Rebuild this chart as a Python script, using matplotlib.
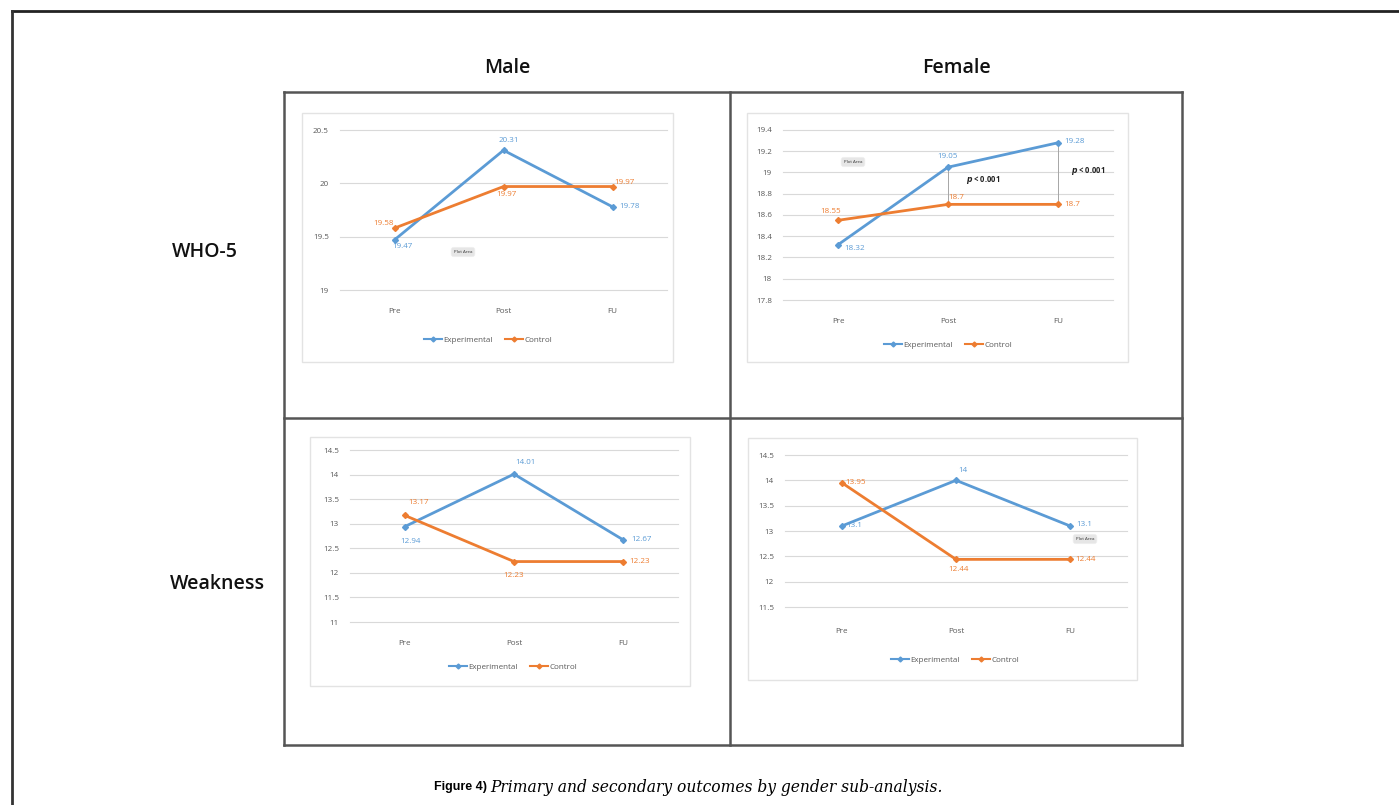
import matplotlib
matplotlib.use("Agg")
import matplotlib.pyplot as plt
from matplotlib.lines import Line2D
from matplotlib.patches import Rectangle

W, H = 1399, 805

# ---- data ----
stages = ["Pre", "Post", "FU"]
series_names = ["Experimental", "Control"]

male_who5_exp = [19.47, 20.31, 19.78]
male_who5_ctl = [19.58, 19.97, 19.97]
female_who5_exp = [18.32, 19.05, 19.28]
female_who5_ctl = [18.55, 18.7, 18.7]
male_weak_exp = [12.94, 14.01, 12.67]
male_weak_ctl = [13.17, 12.23, 12.23]
female_weak_exp = [13.1, 14, 13.1]
female_weak_ctl = [13.95, 12.44, 12.44]

male_who5_ticks = [19, 19.5, 20, 20.5]
female_who5_ticks = [17.8, 18, 18.2, 18.4, 18.6, 18.8, 19, 19.2, 19.4]
male_weak_ticks = [11, 11.5, 12, 12.5, 13, 13.5, 14, 14.5]
female_weak_ticks = [11.5, 12, 12.5, 13, 13.5, 14, 14.5]

col_titles = ["Male", "Female"]
row_titles = ["WHO-5", "Weakness"]
p_text = "$\\boldsymbol{p}$ < 0.001"
caption_bold = "Figure 4) "
caption_text = "Primary and secondary outcomes by gender sub-analysis."

BLUE = "#5B9BD5"
ORANGE = "#ED7D31"
TICK = "#595959"
GRID = "#D9D9D9"
FONT = "Open Sans"

fig = plt.figure(figsize=(W / 100, H / 100), dpi=100)
fig.patch.set_facecolor("white")


def fx(x):
    return x / W


def fy(y):
    return 1 - y / H


def fig_line(x0, y0, x1, y1, color, lw):
    fig.add_artist(Line2D([fx(x0), fx(x1)], [fy(y0), fy(y1)], color=color,
                          lw=lw, transform=fig.transFigure))


def fmt(v):
    return ("%g" % v)


def panel(box, plot, ticks, exp, ctl, exp_off, ctl_off, legend_xy, xpad):
    bx0, by0, bx1, by1 = box
    fig.add_artist(Rectangle((fx(bx0), fy(by1)), fx(bx1 - bx0), (by1 - by0) / H,
                             transform=fig.transFigure, fill=False,
                             edgecolor="#E3E3E3", lw=1.0))
    x0, y0, x1, y1 = plot
    ax = fig.add_axes([fx(x0), fy(y1), fx(x1 - x0), (y1 - y0) / H])
    ax.set_facecolor("none")
    xs = [0.5, 1.5, 2.5]
    ax.plot(xs, exp, color=BLUE, lw=2, marker="D", ms=3, zorder=3)
    ax.plot(xs, ctl, color=ORANGE, lw=2, marker="D", ms=3, zorder=3)
    ax.set_xlim(0, 3)
    ax.set_ylim(ticks[0], ticks[-1])
    ax.set_yticks(ticks)
    ax.set_yticklabels([fmt(t) for t in ticks])
    ax.set_xticks(xs)
    ax.set_xticklabels(stages)
    for s in ax.spines.values():
        s.set_visible(False)
    ax.grid(axis="y", color=GRID, lw=0.8)
    for gl in ax.get_ygridlines():
        gl.set_clip_on(False)
    ax.set_axisbelow(True)
    ax.tick_params(length=0, labelsize=5.8, labelcolor=TICK, pad=8)
    ax.tick_params(axis="x", pad=xpad)
    for lbl in ax.get_xticklabels() + ax.get_yticklabels():
        lbl.set_fontfamily(FONT)
    for vals, offs, col in ((exp, exp_off, BLUE), (ctl, ctl_off, ORANGE)):
        for x, v, (dx, dy) in zip(xs, vals, offs):
            ax.annotate(fmt(v), (x, v), xytext=(dx, dy), textcoords="offset points",
                        ha="center", va="center", fontsize=5.8, color=col,
                        family=FONT)
    handles = [Line2D([], [], color=BLUE, lw=1.5, marker="D", ms=2.5),
               Line2D([], [], color=ORANGE, lw=1.5, marker="D", ms=2.5)]
    fig.legend(handles, series_names, loc="center",
               bbox_to_anchor=(fx(legend_xy[0]), fy(legend_xy[1])),
               ncol=2, frameon=False, prop={"family": FONT, "size": 5.8},
               labelcolor=TICK, handlelength=2.2, handletextpad=0.2,
               columnspacing=1.5)
    return ax


def tooltip(x, y):
    fig.text(fx(x), fy(y), "Plot Area", fontsize=3.2, ha="center", va="center",
             family=FONT, color="#333333",
             bbox=dict(boxstyle="round,pad=0.6", fc="#E6E6E6", ec="#EFEFEF", lw=0.5))


# ---- outer frame and 2x2 grid ----
fig_line(12, 11, W, 11, "#222222", 2)
fig_line(12, 11, 12, H, "#333333", 2)
gx0, gx1, gy0, gy1, gxm, gym = 284, 1182, 92, 745, 730, 418
for (a, b, c, d) in [(gx0, gy0, gx1, gy0), (gx0, gy1, gx1, gy1),
                     (gx0, gy0, gx0, gy1), (gx1, gy0, gx1, gy1),
                     (gxm, gy0, gxm, gy1), (gx0, gym, gx1, gym)]:
    fig_line(a, b, c, d, "#555555", 1.8)

# ---- panels ----
panel((302, 113, 673, 362), (340, 130, 667, 290), male_who5_ticks,
      male_who5_exp, male_who5_ctl,
      [(6, -5), (4, 7), (12, 0)], [(-8, 3), (2, -6), (9, 3)], (488, 340), 13)
tooltip(463, 252)

ax_tr = panel((747, 113, 1128, 362), (783, 130, 1113, 300), female_who5_ticks,
              female_who5_exp, female_who5_ctl,
              [(12, -3), (0, 8), (12, 1)], [(-5, 6), (6, 5), (10, 0)], (948, 345), 13)
for x, a, b in zip([1.5, 2.5], female_who5_ctl[1:], female_who5_exp[1:]):
    ax_tr.plot([x, x], [a, b], color="#A6A6A6", lw=0.7, zorder=2)
ax_tr.text(1.82, 18.93, p_text, fontsize=5.5, ha="center", va="center",
           fontweight="bold", family=FONT, color="#222222")
ax_tr.text(2.77, 19.01, p_text, fontsize=5.5, ha="center", va="center",
           fontweight="bold", family=FONT, color="#222222")
tooltip(853, 162)

panel((310, 437, 690, 686), (350, 450, 678, 622), male_weak_ticks,
      male_weak_exp, male_weak_ctl,
      [(4, -11), (8, 8), (13, 0)], [(10, 9), (0, -10), (12, 0)], (513, 667), 13)

panel((748, 438, 1137, 680), (785, 455, 1127, 607), female_weak_ticks,
      female_weak_exp, female_weak_ctl,
      [(9, 0), (5, 7), (10, 1)], [(10, 0), (2, -7), (11, 0)], (955, 660), 15)
tooltip(1085, 539)

# ---- headers ----
for txt, x in zip(col_titles, [507, 957]):
    fig.text(fx(x), fy(68), txt, fontsize=14, ha="center", va="center",
             family=FONT, fontweight="semibold", color="#111111")
for txt, x, y in zip(row_titles, [205, 217], [252, 584]):
    fig.text(fx(x), fy(y), txt, fontsize=14, ha="center", va="center",
             family=FONT, fontweight="semibold", color="#111111")

# ---- caption ----
cap_y = fy(787)
t1 = fig.text(fx(434), cap_y, caption_bold, fontsize=9, fontweight="bold",
              family="Liberation Sans", ha="left", va="center")
fig.canvas.draw()
bb = t1.get_window_extent()
t2 = fig.text(bb.x1 / W, cap_y, caption_text, fontsize=11.2, style="italic",
              family="DejaVu Serif", ha="left", va="center")

fig.savefig("out.png", dpi=100, facecolor="white")
